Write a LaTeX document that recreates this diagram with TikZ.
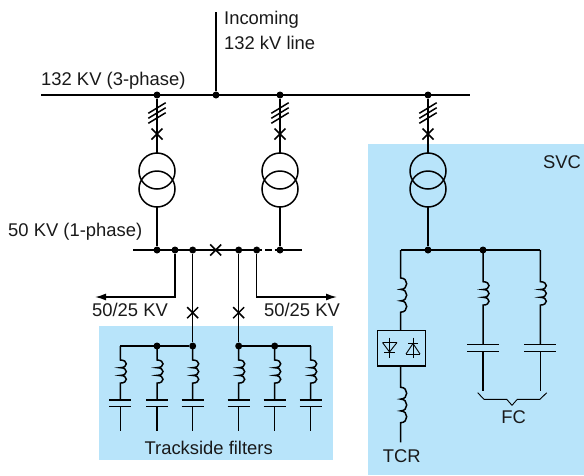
\documentclass[tikz,border=0pt]{standalone}
\usepackage{fontspec}
\setmainfont{Liberation Sans}
\usetikzlibrary{arrows.meta}
\definecolor{panelblue}{HTML}{B8E4FA}
\tikzset{
  wire/.style={line width=1.5pt,line join=miter},
  thinwire/.style={line width=0.9pt},
  panel/.style={fill=panelblue,draw=none},
  dot/.style={circle,fill=black,inner sep=0pt,minimum size=7pt},
  lbl/.style={inner sep=0pt,font=\fontsize{18.4}{21}\selectfont,text=black!90},
  feed/.style={wire,-{Latex[length=11pt,width=7pt]}}
}
\begin{document}
\begin{tikzpicture}[x=1pt,y=-1pt]
\useasboundingbox (0,0) rectangle (584,475);
%panels
\fill[panel] (99,326) rectangle (333,460);
\fill[panel] (368,144) rectangle (584,475);
%132 kV bus
\pgfmathsetmacro{\busA}{95}
\pgfmathsetmacro{\busB}{250}
\coordinate (HV-L) at (41,\busA);
\coordinate (HV-R) at (470,\busA);
\coordinate (IN-T) at (216,12);
\node[dot] (HV-IN) at (216,\busA) {};
\draw[wire] (HV-L) -- (HV-R);
\draw[wire] (IN-T) -- (HV-IN);
%transformer legs
\pgfmathsetmacro{\rT}{18}
\foreach \name/\x in {TA/157,TB/280,TC/428}{
\node[dot] (\name-HV) at (\x,\busA) {};
\coordinate (\name-top) at (\x,153);
\coordinate (\name-bot) at (\x,207);
\draw[wire] (\name-HV) -- (\name-top);
%three phase ticks
\foreach \y in {0,1,2}{
\draw[wire] (\x-8.7,113.3+\y*5) -- ++(17.4,-10.6);
}
%breaker
\draw[wire] (\x-5.5,128.5) -- ++(11,11);
\draw[wire] (\x-5.5,139.5) -- ++(11,-11);
%windings
\draw[wire] (\x,171) circle (\rT);
\draw[wire] (\x,189) circle (\rT);
}
%50 kV bus
\coordinate (LV-L) at (133,\busB);
\coordinate (LV-R) at (302,\busB);
\coordinate (LV-G1) at (262,\busB);
\coordinate (LV-G2) at (265,\busB);
\coordinate (LV-G3) at (271.5,\busB);
\coordinate (LV-G4) at (274.5,\busB);
\draw[wire] (LV-L) -- (LV-G1);
\draw[wire] (LV-G2) -- (LV-G3);
\draw[wire] (LV-G4) -- (LV-R);
\draw[wire] (215.7-5.5,\busB-5.5) -- ++(11,11);
\draw[wire] (215.7-5.5,\busB+5.5) -- ++(11,-11);
\node[dot] (LV-A) at (157,\busB) {};
\node[dot] (LV-B) at (280,\busB) {};
\node[dot] (LV-C) at (175,\busB) {};
\node[dot] (LV-D) at (256.7,\busB) {};
\node[dot] (LV-E) at (192.7,\busB) {};
\node[dot] (LV-F) at (238.7,\busB) {};
\draw[wire] (TA-bot) -- (LV-A);
\draw[wire] (TB-bot) -- (LV-B);
%traction feeders
\coordinate (FL) at (95,297);
\coordinate (FR) at (337,297);
\draw[feed] (LV-C) |- (FL);
\draw[feed] (LV-D) |- (FR);
%trackside filters
\pgfmathsetmacro{\busF}{346}
\node[dot] (FA-top) at (192.7,\busF) {};
\node[dot] (FB-top) at (238.7,\busF) {};
\node[dot] (FA-mid) at (157,\busF) {};
\node[dot] (FB-mid) at (274.7,\busF) {};
\coordinate (FA-end) at (120.3,\busF);
\coordinate (FB-end) at (310.7,\busF);
\draw[wire] (LV-E) -- (FA-top);
\draw[wire] (LV-F) -- (FB-top);
\draw[wire] (FA-end) -- (FA-top);
\draw[wire] (FB-top) -- (FB-end);
\foreach \x in {192.7,238.7}{
\draw[wire] (\x-5.5,312.7-5.5) -- ++(11,11);
\draw[wire] (\x-5.5,312.7+5.5) -- ++(11,-11);
}
\foreach \x in {120.3,157,192.7,238.7,274.7,310.7}{
\draw[wire] (\x,\busF) -- (\x,360)
  .. controls +(8,0) and +(8,0) .. ++(0,7.7)
  .. controls +(8,0) and +(8,0) .. ++(0,7.7)
  .. controls +(8,0) and +(8,0) .. ++(0,7.7)
  -- (\x,400);
\draw[wire] (\x-11,400) -- ++(22,0);
\draw[wire] (\x-11,406.7) -- ++(22,0);
\draw[wire] (\x,406.7) -- (\x,431);
}
%SVC
\node[dot] (SV-A) at (428,\busB) {};
\node[dot] (SV-B) at (483,\busB) {};
\coordinate (SV-L) at (400.7,\busB);
\coordinate (SV-R) at (540.3,\busB);
\draw[wire] (TC-bot) -- (SV-A);
\draw[wire] (SV-L) -- (SV-R);
%TCR leg
\node[draw,line width=1.5pt,minimum width=47.6pt,minimum height=35.3pt,inner sep=0pt] (VALVE) at (401.5,348.3) {};
\draw[wire] (SV-L) -- (400.7,278)
  .. controls +(8,0) and +(8,0) .. ++(0,11.4)
  .. controls +(8,0) and +(8,0) .. ++(0,11.4)
  .. controls +(8,0) and +(8,0) .. ++(0,11.4)
  -- (VALVE.north -| SV-L);
\coordinate (TCR-end) at (400.7,442.3);
\draw[wire] (VALVE.south -| SV-L) -- (400.7,387.3)
  .. controls +(8,0) and +(8,0) .. ++(0,11.8)
  .. controls +(8,0) and +(8,0) .. ++(0,11.8)
  .. controls +(8,0) and +(8,0) .. ++(0,11.8)
  -- (TCR-end);
%thyristors
\draw[thinwire] (389.5,337.5) -- (389.5,358);
\draw[thinwire] (382.5,342.5) -- (397,342.5);
\draw[thinwire] (382.5,342.5) -- (389.5,352) -- (397,342.5);
\draw[thinwire] (384,352) -- (395,352);
\draw[thinwire] (413,337.5) -- (413,358);
\draw[thinwire] (406,354) -- (420,354);
\draw[thinwire] (406,354) -- (413,343.5) -- (420,354);
\draw[thinwire] (408,343.5) -- (418,343.5);
%FC legs
\foreach \x in {483,540.3}{
\draw[wire] (\x,\busB) -- (\x,281.7)
  .. controls +(8,0) and +(8,0) .. ++(0,7.8)
  .. controls +(8,0) and +(8,0) .. ++(0,7.8)
  .. controls +(8,0) and +(8,0) .. ++(0,7.8)
  -- (\x,344.7);
\draw[wire] (\x-16,344.7) -- ++(32,0);
\draw[wire] (\x-16,351.3) -- ++(32,0);
\draw[wire] (\x,351.3) -- (\x,391);
}
%FC brace
\draw[thinwire] (477.7,392.7) -- (484,399.3) -- (506.7,399.3) -- (512,405.3) -- (517.3,399.3) -- (540,399.3) -- (546.7,392.7);
%text
\node[lbl,anchor=west] (TXa) at (224,20) {Incoming};
\node[lbl,anchor=west] (TXb) at (224,43) {132 kV line};
\node[lbl,anchor=west] (TXc) at (41,81) {132 KV (3-phase)};
\node[lbl,anchor=west] (TXd) at (8,232) {50 KV (1-phase)};
\node[lbl] (TXe) at (130,310) {50/25 KV};
\node[lbl] (TXf) at (302,310) {50/25 KV};
\node[lbl] (TXg) at (208.7,447.7) {Trackside filters};
\node[lbl] (TXh) at (562,162) {SVC};
\node[lbl] (TXi) at (513.7,416.7) {FC};
\node[lbl] (TXj) at (401.7,456) {TCR};
\end{tikzpicture}
\end{document}
